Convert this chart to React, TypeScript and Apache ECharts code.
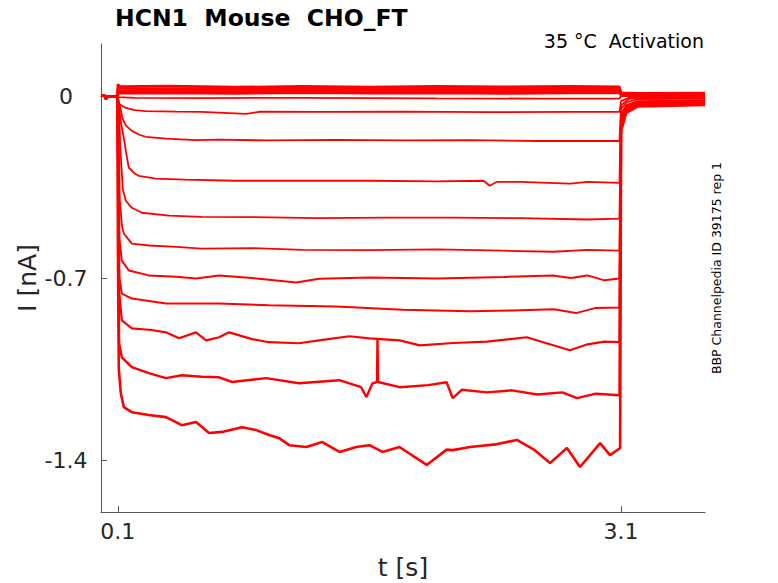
import React, { useEffect, useRef } from "react";
import * as echarts from "echarts";

type Pt = [number, number];

const FONT = "DejaVu Sans";
const titleText = "HCN1  Mouse  CHO_FT";
const conditionText = "35 °C  Activation";
const sideText = "BBP Channelpedia ID 39175 rep 1";
const xName = "t [s]";
const yName = "I [nA]";
const xTicks = [0.1, 3.1];
const yTicks = [0, -0.7, -1.4];

// holding period before the step (shared by all sweeps)
const prePulse: Pt[] = [[0, 0.002], [0.025, 0.0], [0.03, -0.012], [0.036, -0.002], [0.098, 0.0]];

// step period, one array per sweep
const trace1: Pt[] = [[0.1, 0.002], [0.101, 0.046], [0.11, 0.036], [0.4, 0.038], [0.8, 0.034], [1.2, 0.037], [1.6, 0.034], [2.0, 0.037], [2.4, 0.035], [2.8, 0.037], [3.09, 0.035]];
const trace2: Pt[] = [[0.1, 0.002], [0.102, 0.03], [0.3, 0.027], [0.7, 0.029], [1.1, 0.026], [1.5, 0.028], [1.9, 0.026], [2.3, 0.028], [2.7, 0.026], [3.09, 0.027]];
const trace3: Pt[] = [[0.1, 0.002], [0.103, 0.02], [0.35, 0.019], [0.75, 0.021], [1.15, 0.018], [1.55, 0.02], [1.95, 0.018], [2.35, 0.02], [2.75, 0.018], [3.09, 0.019]];
const trace4: Pt[] = [[0.1, 0.0], [0.105, 0.011], [0.4, 0.012], [0.8, 0.01], [1.2, 0.013], [1.6, 0.011], [2.0, 0.012], [2.4, 0.01], [2.8, 0.012], [3.09, 0.012]];
const trace5: Pt[] = [[0.1, 0.0], [0.106, -0.004], [0.2, -0.007], [0.6, -0.008], [1.2, -0.007], [2.0, -0.009], [2.6, -0.01], [3.09, -0.01]];
const trace6: Pt[] = [[0.1, 0.0], [0.106, -0.031], [0.15, -0.046], [0.2, -0.054], [0.267, -0.058], [0.45, -0.06], [0.6, -0.061], [0.865, -0.069], [0.95, -0.06], [1.3, -0.061], [1.8, -0.06], [2.3, -0.062], [2.8, -0.061], [3.09, -0.061]];
const trace7: Pt[] = [[0.1, 0.0], [0.106, -0.02], [0.13, -0.09], [0.15, -0.115], [0.184, -0.134], [0.225, -0.148], [0.267, -0.157], [0.387, -0.164], [0.566, -0.17], [0.7, -0.168], [1.0, -0.171], [1.4, -0.169], [1.8, -0.171], [2.2, -0.17], [2.6, -0.173], [3.09, -0.173]];
const trace8: Pt[] = [[0.1, 0.0], [0.106, -0.031], [0.118, -0.1], [0.136, -0.161], [0.15, -0.22], [0.166, -0.276], [0.2, -0.298], [0.225, -0.307], [0.327, -0.318], [0.5, -0.322], [0.8, -0.326], [1.2, -0.326], [1.6, -0.326], [2.0, -0.328], [2.28, -0.326], [2.317, -0.345], [2.36, -0.33], [2.5, -0.33], [2.795, -0.337], [2.9, -0.33], [3.09, -0.334]];
const trace9: Pt[] = [[0.1, 0.0], [0.106, -0.03], [0.115, -0.2], [0.13, -0.36], [0.148, -0.403], [0.184, -0.43], [0.243, -0.449], [0.405, -0.46], [0.6, -0.465], [0.9, -0.466], [1.3, -0.47], [1.7, -0.468], [2.1, -0.468], [2.5, -0.47], [2.9, -0.475], [3.09, -0.472]];
const trace10: Pt[] = [[0.1, 0.0], [0.104, -0.1], [0.112, -0.4], [0.125, -0.5], [0.136, -0.529], [0.184, -0.568], [0.285, -0.575], [0.45, -0.58], [0.6, -0.587], [0.9, -0.585], [1.2, -0.592], [1.6, -0.593], [2.0, -0.59], [2.4, -0.595], [2.7, -0.599], [2.9, -0.592], [3.09, -0.595]];
const trace11: Pt[] = [[0.1, 0.0], [0.103, -0.2], [0.11, -0.55], [0.124, -0.633], [0.166, -0.671], [0.285, -0.69], [0.45, -0.695], [0.566, -0.702], [0.704, -0.69], [0.9, -0.7], [1.164, -0.717], [1.3, -0.703], [1.6, -0.698], [2.0, -0.702], [2.4, -0.696], [2.694, -0.69], [2.8, -0.7], [2.9, -0.69], [3.0, -0.709], [3.09, -0.702]];
const trace12: Pt[] = [[0.1, 0.0], [0.103, -0.3], [0.11, -0.7], [0.124, -0.76], [0.184, -0.779], [0.387, -0.798], [0.7, -0.798], [1.0, -0.805], [1.4, -0.81], [1.8, -0.822], [2.2, -0.828], [2.455, -0.825], [2.7, -0.82], [2.83, -0.835], [2.95, -0.815], [3.09, -0.813]];
const trace13: Pt[] = [[0.1, 0.0], [0.102, -0.3], [0.108, -0.75], [0.124, -0.863], [0.184, -0.894], [0.3, -0.9], [0.387, -0.909], [0.465, -0.932], [0.566, -0.909], [0.626, -0.94], [0.704, -0.928], [0.763, -0.909], [0.9, -0.935], [1.0, -0.947], [1.18, -0.951], [1.3, -0.94], [1.48, -0.924], [1.6, -0.932], [1.78, -0.94], [1.9, -0.959], [2.1, -0.95], [2.3, -0.945], [2.538, -0.928], [2.65, -0.95], [2.795, -0.978], [2.9, -0.955], [3.0, -0.945], [3.09, -0.947]];
const trace14: Pt[] = [[0.1, 0.0], [0.102, -0.4], [0.108, -0.95], [0.124, -1.005], [0.184, -1.043], [0.285, -1.066], [0.387, -1.085], [0.482, -1.074], [0.6, -1.08], [0.704, -1.082], [0.782, -1.1], [0.984, -1.085], [1.18, -1.105], [1.42, -1.093], [1.55, -1.12], [1.582, -1.158], [1.618, -1.105], [1.645, -1.1], [1.648, -0.932], [1.651, -1.1], [1.78, -1.12], [1.95, -1.112], [2.06, -1.101], [2.096, -1.162], [2.15, -1.13], [2.3, -1.14], [2.45, -1.132], [2.6, -1.148], [2.75, -1.14], [2.837, -1.162], [2.95, -1.145], [3.09, -1.151]];
const trace15: Pt[] = [[0.1, 0.0], [0.101, -0.6], [0.106, -1.05], [0.118, -1.143], [0.136, -1.197], [0.184, -1.216], [0.285, -1.227], [0.387, -1.235], [0.482, -1.266], [0.566, -1.254], [0.644, -1.296], [0.722, -1.292], [0.841, -1.274], [0.925, -1.285], [1.002, -1.304], [1.062, -1.316], [1.122, -1.343], [1.224, -1.35], [1.319, -1.331], [1.421, -1.369], [1.522, -1.35], [1.6, -1.343], [1.678, -1.369], [1.779, -1.35], [1.941, -1.419], [2.06, -1.36], [2.096, -1.362], [2.2, -1.35], [2.35, -1.34], [2.479, -1.323], [2.58, -1.36], [2.676, -1.412], [2.777, -1.354], [2.855, -1.427], [2.975, -1.335], [3.034, -1.381], [3.094, -1.354]];

// tail after the step back to holding potential
const tail1: Pt[] = [[3.1, 0.012], [3.2, 0.01], [3.6, 0.011]];
const tail2: Pt[] = [[3.1, 0.009], [3.2, 0.008], [3.6, 0.008]];
const tail3: Pt[] = [[3.1, 0.006], [3.2, 0.005], [3.6, 0.006]];
const tail4: Pt[] = [[3.1, 0.003], [3.2, 0.003], [3.6, 0.003]];
const tail5: Pt[] = [[3.1, 0.0], [3.6, 0.0]];
const tail6: Pt[] = [[3.1, -0.02], [3.15, -0.006], [3.6, -0.003]];
const tail7: Pt[] = [[3.1, -0.035], [3.15, -0.01], [3.6, -0.006]];
const tail8: Pt[] = [[3.1, -0.05], [3.13, -0.025], [3.2, -0.012], [3.6, -0.01]];
const tail9: Pt[] = [[3.1, -0.07], [3.13, -0.035], [3.2, -0.02], [3.6, -0.016]];
const tail10: Pt[] = [[3.1, -0.08], [3.13, -0.04], [3.2, -0.024], [3.6, -0.02]];
const tail11: Pt[] = [[3.1, -0.09], [3.13, -0.045], [3.2, -0.027], [3.6, -0.023]];
const tail12: Pt[] = [[3.1, -0.1], [3.13, -0.05], [3.2, -0.03], [3.6, -0.026]];
const tail13: Pt[] = [[3.1, -0.11], [3.13, -0.055], [3.2, -0.033], [3.6, -0.028]];
const tail14: Pt[] = [[3.1, -0.12], [3.13, -0.06], [3.2, -0.036], [3.6, -0.03]];
const tail15: Pt[] = [[3.1, -0.135], [3.13, -0.065], [3.2, -0.04], [3.6, -0.034]];

const sweeps: { step: Pt[]; tail: Pt[]; w: number }[] = [
  { step: trace1, tail: tail1, w: 2.6 },
  { step: trace2, tail: tail2, w: 2.6 },
  { step: trace3, tail: tail3, w: 2.6 },
  { step: trace4, tail: tail4, w: 2.6 },
  { step: trace5, tail: tail5, w: 1.8 },
  { step: trace6, tail: tail6, w: 1.8 },
  { step: trace7, tail: tail7, w: 1.8 },
  { step: trace8, tail: tail8, w: 1.8 },
  { step: trace9, tail: tail9, w: 1.8 },
  { step: trace10, tail: tail10, w: 1.8 },
  { step: trace11, tail: tail11, w: 2 },
  { step: trace12, tail: tail12, w: 2 },
  { step: trace13, tail: tail13, w: 2.2 },
  { step: trace14, tail: tail14, w: 2.4 },
  { step: trace15, tail: tail15, w: 2.6 },
];

export default function App() {
  const ref = useRef<HTMLDivElement>(null);
  useEffect(() => {
    if (!ref.current) return;
    const chart = echarts.init(ref.current, undefined, { renderer: "svg" });
    const axisColor = "#555555";
    const labelColor = "#262626";
    chart.setOption({
      animation: false,
      backgroundColor: "#ffffff",
      grid: { left: 101, right: 73, top: 44, bottom: 71, containLabel: false },
      xAxis: {
        type: "value",
        min: 0,
        max: 3.6,
        axisLine: { onZero: false, lineStyle: { color: axisColor, width: 1 } },
        axisTick: { inside: true, length: 6, customValues: xTicks, lineStyle: { color: axisColor } },
        axisLabel: { customValues: xTicks, fontSize: 22, color: labelColor, margin: 8, fontFamily: FONT, formatter: (v: number) => String(v) },
        splitLine: { show: false },
      },
      yAxis: {
        type: "value",
        min: -1.6,
        max: 0.2,
        axisLine: { onZero: false, lineStyle: { color: axisColor, width: 1 } },
        axisTick: { inside: true, length: 6, customValues: yTicks, lineStyle: { color: axisColor } },
        axisLabel: { customValues: yTicks, fontSize: 22, color: labelColor, margin: 35, align: "center", fontFamily: FONT, formatter: (v: number) => String(v) },
        splitLine: { show: false },
      },
      series: sweeps.map((s) => ({
        type: "line",
        data: [...prePulse, ...s.step, ...s.tail],
        showSymbol: false,
        symbol: "none",
        lineStyle: { color: "#ff0000", width: s.w },
        itemStyle: { color: "#ff0000" },
        silent: true,
        z: 2,
      })),
      graphic: [
        { type: "text", x: 115, y: 18, style: { text: titleText, font: `bold 23.5px "${FONT}"`, fill: "#000000", textAlign: "left", textVerticalAlign: "middle" } },
        { type: "text", x: 704, y: 41, style: { text: conditionText, font: `19px "${FONT}"`, fill: "#000000", textAlign: "right", textVerticalAlign: "middle" } },
        { type: "text", x: 716.5, y: 268, rotation: Math.PI / 2, style: { text: sideText, font: `12.5px "${FONT}"`, fill: "#000000", textAlign: "center", textVerticalAlign: "middle" } },
        { type: "text", x: 27, y: 278, rotation: Math.PI / 2, style: { text: yName, font: `25px "${FONT}"`, fill: labelColor, textAlign: "center", textVerticalAlign: "middle" } },
        { type: "text", x: 403, y: 567, style: { text: xName, font: `25px "${FONT}"`, fill: labelColor, textAlign: "center", textVerticalAlign: "middle" } },
      ],
    });
    return () => chart.dispose();
  }, []);
  return <div ref={ref} style={{ position: "fixed", left: 0, top: 0, width: 778, height: 583, background: "#fff" }} />;
}
